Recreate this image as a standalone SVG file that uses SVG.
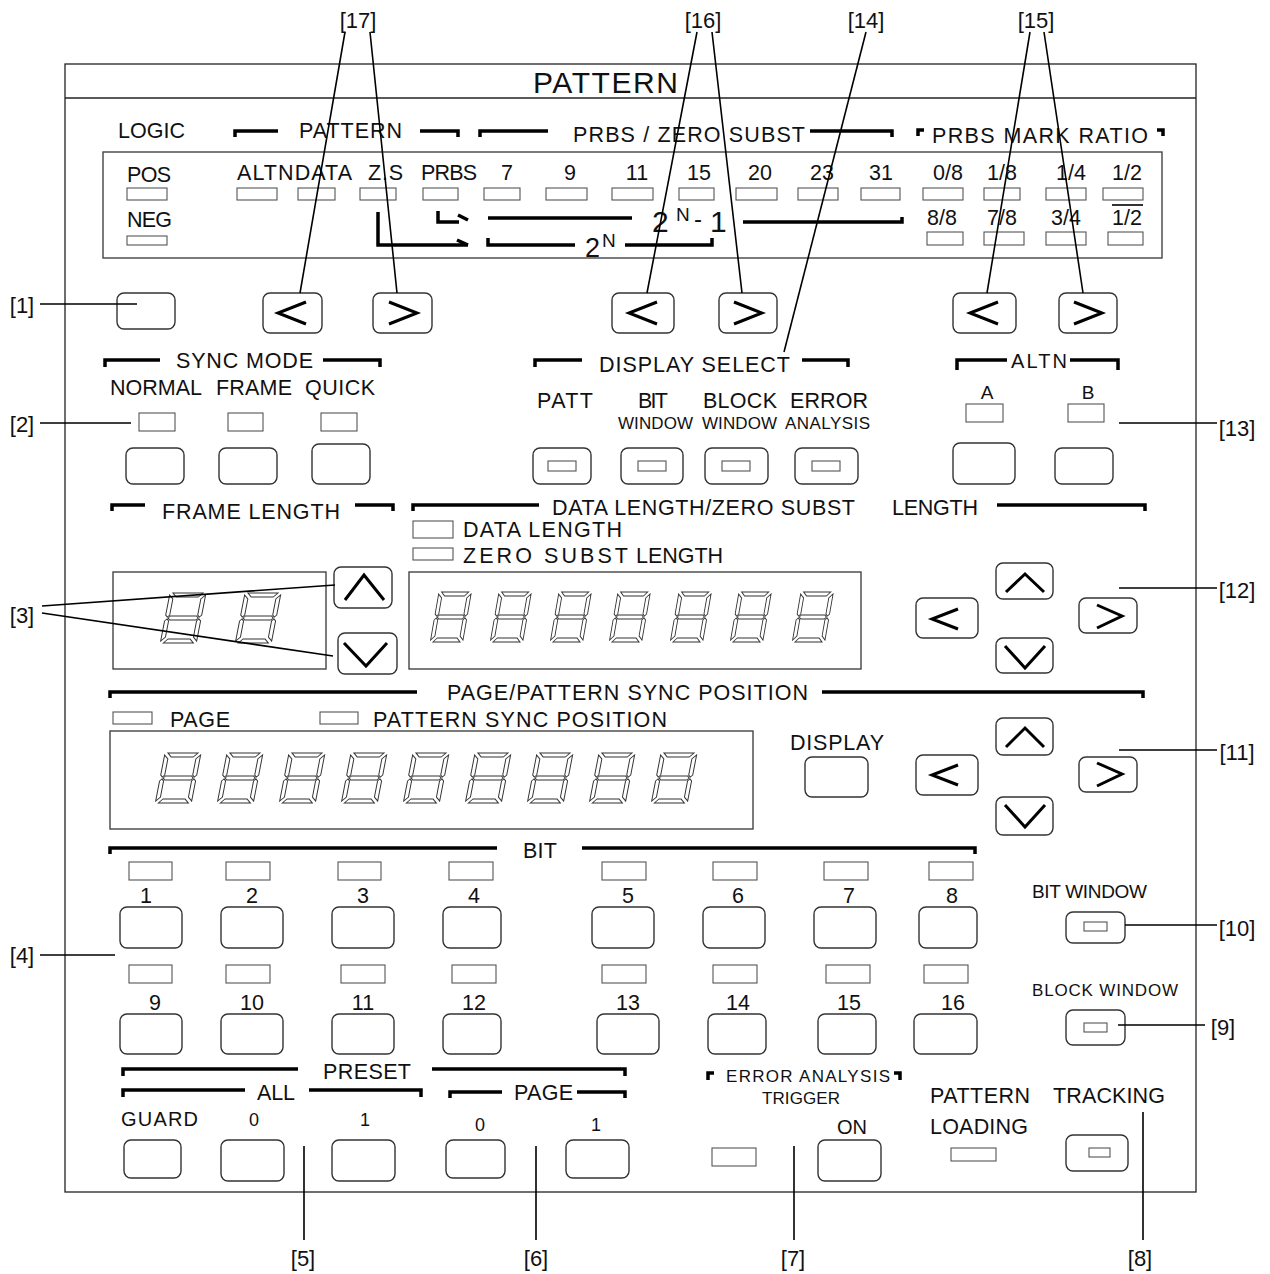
<svg xmlns="http://www.w3.org/2000/svg" width="1270" height="1274" viewBox="0 0 1270 1274">
<style>
.t{font-family:"Liberation Sans",Arial,Helvetica,sans-serif;font-size:21.5px;fill:#111}
.s{font-size:17px}
.m{text-anchor:middle}
.fr{fill:none;stroke:#222;stroke-width:1.3}
.bx{fill:none;stroke:#444;stroke-width:1.4}
.btn{fill:#fff;stroke:#333;stroke-width:1.4}
.led{fill:#fff;stroke:#555;stroke-width:1.1}
.hb{fill:none;stroke:#000;stroke-width:3.5}
.ch{fill:none;stroke:#000;stroke-width:3}
.ld{fill:none;stroke:#000;stroke-width:1.6}
.seg{fill:none;stroke:#333;stroke-width:1}
.cl{font-size:22px}
</style>
<defs>
<g id="dg" transform="translate(10,0) skewX(-11)">
<path class="seg" d="M3,0 H33 L29,4 H7 Z M0,2 L4,6 V22 L2,24 L0,22 Z M36,2 V22 L34,24 L32,22 V6 Z M3,25 L5,23 H31 L33,25 L31,27 H5 Z M0,28 L2,26 L4,28 V44 L0,48 Z M36,28 V48 L32,44 V28 L34,26 Z M3,50 L7,46 H29 L33,50 Z"/>
</g>
</defs>
<rect width="1270" height="1274" fill="#fff"/>

<g id="panel">
<rect class="fr" x="65" y="64" width="1131" height="1128"/>
<line class="fr" x1="65" y1="98" x2="1196" y2="98"/>
<text class="t" x="533" y="93" style="font-size:30px" textLength="145">PATTERN</text>
</g>

<g id="logic-pattern-display">
<text class="t" x="118" y="138" textLength="67">LOGIC</text>
<path class="hb" d="M235,137 V131 H278 M420,131 H458 V137"/>
<text class="t" x="299" y="138" textLength="103">PATTERN</text>
<path class="hb" d="M480,137 V131 H548 M810,131 H892 V137"/>
<text class="t" x="573" y="142" textLength="232">PRBS / ZERO  SUBST</text>
<path class="hb" d="M918,136 V130 H924 M1157,130 H1163 V136"/>
<text class="t" x="932" y="143" textLength="216">PRBS  MARK  RATIO</text>
<rect class="bx" x="103" y="152" width="1059" height="106"/>
<text class="t" x="127" y="182" textLength="44">POS</text>
<rect class="led" x="127" y="188" width="40" height="12"/>
<text class="t" x="127" y="227" textLength="45">NEG</text>
<rect class="led" x="127" y="236" width="40" height="9"/>
<text class="t" x="237" y="180" textLength="115">ALTNDATA</text>
<text class="t" x="368" y="180" textLength="35">Z.S</text>
<text class="t" x="421" y="180" textLength="56">PRBS</text>
<text class="t m" x="507" y="180">7</text>
<text class="t m" x="570" y="180">9</text>
<text class="t m" x="637" y="180">11</text>
<text class="t m" x="699" y="180">15</text>
<text class="t m" x="760" y="180">20</text>
<text class="t m" x="822" y="180">23</text>
<text class="t m" x="881" y="180">31</text>
<text class="t m" x="948" y="180">0/8</text>
<text class="t m" x="1002" y="180">1/8</text>
<text class="t m" x="1071" y="180">1/4</text>
<text class="t m" x="1127" y="180">1/2</text>
<rect class="led" x="237" y="188" width="40" height="12"/>
<rect class="led" x="298" y="188" width="37" height="12"/>
<rect class="led" x="360" y="188" width="36" height="12"/>
<rect class="led" x="423" y="188" width="35" height="12"/>
<rect class="led" x="484" y="188" width="36" height="12"/>
<rect class="led" x="546" y="188" width="41" height="12"/>
<rect class="led" x="612" y="188" width="41" height="12"/>
<rect class="led" x="679" y="188" width="35" height="12"/>
<rect class="led" x="736" y="188" width="41" height="12"/>
<rect class="led" x="798" y="188" width="40" height="12"/>
<rect class="led" x="861" y="188" width="39" height="12"/>
<rect class="led" x="923" y="188" width="40" height="12"/>
<rect class="led" x="984" y="188" width="36" height="12"/>
<rect class="led" x="1046" y="188" width="40" height="12"/>
<rect class="led" x="1103" y="188" width="40" height="12"/>
<text class="t m" x="942" y="225">8/8</text>
<text class="t m" x="1002" y="225">7/8</text>
<text class="t m" x="1066" y="225">3/4</text>
<text class="t m" x="1127" y="225">1/2</text>
<line class="ld" x1="1112" y1="205" x2="1143" y2="205" stroke-width="1.2"/>
<rect class="led" x="927" y="232" width="36" height="13"/>
<rect class="led" x="984" y="232" width="40" height="13"/>
<rect class="led" x="1046" y="232" width="40" height="13"/>
<rect class="led" x="1108" y="232" width="35" height="13"/>
<path class="hb" d="M438,211 V222 H459 M458,215 L468,220"/>
<path class="hb" d="M378,212 V245 H468 M457,240 L468,245"/>
<path class="hb" d="M488,218 H632 M743,222 H902 V217"/>
<text class="t" x="652" y="232" style="font-size:30px">2<tspan x="676" y="221" style="font-size:19px">N</tspan><tspan x="694" y="227" style="font-size:24px">-</tspan><tspan x="710" y="232" style="font-size:30px">1</tspan></text>
<path class="hb" d="M488,238 V245 H575 M625,245 H712 V238"/>
<text class="t" x="585" y="257" style="font-size:27px">2<tspan x="602" y="247" style="font-size:19px">N</tspan></text>
</g>

<g id="pattern-buttons">
<rect class="btn" x="117" y="293" width="58" height="36" rx="7"/>
<rect class="btn" x="263" y="293" width="59" height="40" rx="7"/>
<path class="ch" d="M306,302 L278,313 L306,324"/>
<rect class="btn" x="373" y="293" width="59" height="40" rx="7"/>
<path class="ch" d="M389,302 L417,313 L389,324"/>
<rect class="btn" x="612" y="293" width="62" height="40" rx="7"/>
<path class="ch" d="M657,302 L629,313 L657,324"/>
<rect class="btn" x="719" y="293" width="58" height="40" rx="7"/>
<path class="ch" d="M734,302 L762,313 L734,324"/>
<rect class="btn" x="953" y="293" width="63" height="40" rx="7"/>
<path class="ch" d="M998,302 L970,313 L998,324"/>
<rect class="btn" x="1059" y="293" width="58" height="40" rx="7"/>
<path class="ch" d="M1074,302 L1102,313 L1074,324"/>
</g>

<g id="sync-mode">
<path class="hb" d="M105,367 V360 H160 M323,360 H380 V367"/>
<text class="t" x="176" y="368" textLength="137">SYNC  MODE</text>
<text class="t" x="110" y="395" textLength="92">NORMAL</text>
<text class="t" x="216" y="395" textLength="76">FRAME</text>
<text class="t" x="305" y="395" textLength="70">QUICK</text>
<rect class="led" x="139" y="413" width="36" height="18"/>
<rect class="led" x="228" y="413" width="35" height="18"/>
<rect class="led" x="321" y="413" width="36" height="18"/>
<rect class="btn" x="126" y="448" width="58" height="36" rx="7"/>
<rect class="btn" x="219" y="448" width="58" height="36" rx="7"/>
<rect class="btn" x="312" y="444" width="58" height="40" rx="7"/>
</g>

<g id="display-select">
<path class="hb" d="M535,367 V360 H582 M802,360 H848 V367"/>
<text class="t" x="599" y="372" textLength="191">DISPLAY  SELECT</text>
<text class="t" x="537" y="408" textLength="56">PATT</text>
<text class="t" x="638" y="408" textLength="30">BIT</text>
<text class="t" x="703" y="408" textLength="74">BLOCK</text>
<text class="t" x="790" y="408" textLength="78">ERROR</text>
<text class="t s" x="618" y="429" textLength="75">WINDOW</text>
<text class="t s" x="702" y="429" textLength="75">WINDOW</text>
<text class="t s" x="785" y="429" textLength="85">ANALYSIS</text>
<rect class="btn" x="533" y="448" width="58" height="36" rx="7"/>
<rect class="led" x="548" y="461" width="28" height="10"/>
<rect class="btn" x="621" y="448" width="62" height="36" rx="7"/>
<rect class="led" x="638" y="461" width="28" height="10"/>
<rect class="btn" x="705" y="448" width="63" height="36" rx="7"/>
<rect class="led" x="722" y="461" width="28" height="10"/>
<rect class="btn" x="795" y="448" width="63" height="36" rx="7"/>
<rect class="led" x="812" y="461" width="28" height="10"/>
</g>

<g id="altn">
<path class="hb" d="M957,370 V360 H1007 M1070,360 H1118 V370"/>
<text class="t" x="1011" y="368" style="font-size:20px" textLength="56">ALTN</text>
<text class="t m" x="987" y="399" style="font-size:19px">A</text>
<text class="t m" x="1088" y="399" style="font-size:19px">B</text>
<rect class="led" x="966" y="404" width="37" height="18"/>
<rect class="led" x="1068" y="404" width="36" height="18"/>
<rect class="btn" x="953" y="443" width="62" height="41" rx="7"/>
<rect class="btn" x="1055" y="448" width="58" height="36" rx="7"/>
</g>

<g id="frame-length">
<path class="hb" d="M112,511 V505 H145 M355,505 H393 V511"/>
<text class="t" x="162" y="519" textLength="178">FRAME  LENGTH</text>
<rect class="bx" x="113" y="572" width="213" height="97"/>
<use href="#dg" x="160" y="593"/>
<use href="#dg" x="235" y="593"/>
<rect class="btn" x="334" y="567" width="58" height="41" rx="7"/>
<path class="ch" d="M345,600 L364,575 L384,600"/>
<rect class="btn" x="338" y="633" width="59" height="41" rx="7"/>
<path class="ch" d="M344,643 L366,666 L387,643"/>
</g>

<g id="data-length">
<path class="hb" d="M413,511 V505 H539 M997,505 H1145 V511"/>
<text class="t" x="552" y="515"><tspan textLength="303">DATA  LENGTH/ZERO  SUBST</tspan><tspan x="892" textLength="86">LENGTH</tspan></text>
<rect class="led" x="413" y="521" width="40" height="17"/>
<text class="t" x="463" y="537" textLength="159">DATA  LENGTH</text>
<rect class="led" x="413" y="548" width="40" height="12"/>
<text class="t" x="463" y="563"><tspan textLength="165">ZERO  SUBST</tspan><tspan x="636" textLength="87">LENGTH</tspan></text>
<rect class="bx" x="409" y="572" width="452" height="97"/>
<use href="#dg" transform="translate(430,592) scale(0.9,1)"/>
<use href="#dg" transform="translate(490,592) scale(0.9,1)"/>
<use href="#dg" transform="translate(550,592) scale(0.9,1)"/>
<use href="#dg" transform="translate(609,592) scale(0.9,1)"/>
<use href="#dg" transform="translate(670,592) scale(0.9,1)"/>
<use href="#dg" transform="translate(730,592) scale(0.9,1)"/>
<use href="#dg" transform="translate(792,592) scale(0.9,1)"/>
<rect class="btn" x="916" y="598" width="62" height="40" rx="7"/>
<path class="ch" d="M958,609 L932,619 L958,629"/>
<rect class="btn" x="996" y="563" width="57" height="36" rx="7"/>
<path class="ch" d="M1006,592 L1025,574 L1044,592"/>
<rect class="btn" x="1079" y="598" width="58" height="35" rx="7"/>
<path class="ch" d="M1097,605 L1122,616 L1097,628"/>
<rect class="btn" x="996" y="638" width="57" height="35" rx="7"/>
<path class="ch" d="M1005,646 L1025,668 L1045,646"/>
</g>

<g id="page-sync">
<path class="hb" d="M110,698 V692 H417 M822,692 H1143 V698"/>
<text class="t" x="447" y="700" textLength="361">PAGE/PATTERN  SYNC  POSITION</text>
<rect class="led" x="113" y="712" width="39" height="12"/>
<text class="t" x="170" y="727" textLength="60">PAGE</text>
<rect class="led" x="320" y="712" width="38" height="12"/>
<text class="t" x="373" y="727" textLength="294">PATTERN  SYNC  POSITION</text>
<rect class="bx" x="110" y="731" width="643" height="98"/>
<use href="#dg" x="155" y="753"/>
<use href="#dg" x="217" y="753"/>
<use href="#dg" x="279" y="753"/>
<use href="#dg" x="341" y="753"/>
<use href="#dg" x="403" y="753"/>
<use href="#dg" x="465" y="753"/>
<use href="#dg" x="527" y="753"/>
<use href="#dg" x="589" y="753"/>
<use href="#dg" x="651" y="753"/>
<text class="t" x="790" y="750" textLength="94">DISPLAY</text>
<rect class="btn" x="805" y="757" width="63" height="40" rx="7"/>
<rect class="btn" x="916" y="755" width="62" height="40" rx="7"/>
<path class="ch" d="M958,765 L932,775 L958,785"/>
<rect class="btn" x="996" y="718" width="57" height="37" rx="7"/>
<path class="ch" d="M1006,747 L1025,728 L1044,747"/>
<rect class="btn" x="1079" y="757" width="58" height="35" rx="7"/>
<path class="ch" d="M1097,763 L1122,774 L1097,786"/>
<rect class="btn" x="996" y="797" width="57" height="38" rx="7"/>
<path class="ch" d="M1005,805 L1025,827 L1045,805"/>
</g>

<g id="bit">
<path class="hb" d="M110,854 V848 H497 M582,848 H975 V854"/>
<text class="t" x="523" y="858" textLength="34">BIT</text>
<rect class="led" x="129" y="862" width="43" height="18"/>
<rect class="led" x="226" y="862" width="44" height="18"/>
<rect class="led" x="338" y="862" width="43" height="18"/>
<rect class="led" x="449" y="862" width="44" height="18"/>
<rect class="led" x="602" y="862" width="44" height="18"/>
<rect class="led" x="713" y="862" width="44" height="18"/>
<rect class="led" x="824" y="862" width="44" height="18"/>
<rect class="led" x="929" y="862" width="44" height="18"/>
<text class="t m" x="146" y="903">1</text>
<text class="t m" x="252" y="903">2</text>
<text class="t m" x="363" y="903">3</text>
<text class="t m" x="474" y="903">4</text>
<text class="t m" x="628" y="903">5</text>
<text class="t m" x="738" y="903">6</text>
<text class="t m" x="849" y="903">7</text>
<text class="t m" x="952" y="903">8</text>
<rect class="btn" x="120" y="907" width="62" height="41" rx="7"/>
<rect class="btn" x="221" y="907" width="62" height="41" rx="7"/>
<rect class="btn" x="332" y="907" width="62" height="41" rx="7"/>
<rect class="btn" x="443" y="907" width="58" height="41" rx="7"/>
<rect class="btn" x="592" y="907" width="62" height="41" rx="7"/>
<rect class="btn" x="703" y="907" width="62" height="41" rx="7"/>
<rect class="btn" x="814" y="907" width="62" height="41" rx="7"/>
<rect class="btn" x="919" y="907" width="58" height="41" rx="7"/>
<rect class="led" x="129" y="965" width="43" height="18"/>
<rect class="led" x="226" y="965" width="44" height="18"/>
<rect class="led" x="341" y="965" width="44" height="18"/>
<rect class="led" x="452" y="965" width="44" height="18"/>
<rect class="led" x="602" y="965" width="44" height="18"/>
<rect class="led" x="713" y="965" width="44" height="18"/>
<rect class="led" x="826" y="965" width="44" height="18"/>
<rect class="led" x="924" y="965" width="44" height="18"/>
<text class="t m" x="155" y="1010">9</text>
<text class="t m" x="252" y="1010">10</text>
<text class="t m" x="363" y="1010">11</text>
<text class="t m" x="474" y="1010">12</text>
<text class="t m" x="628" y="1010">13</text>
<text class="t m" x="738" y="1010">14</text>
<text class="t m" x="849" y="1010">15</text>
<text class="t m" x="953" y="1010">16</text>
<rect class="btn" x="120" y="1014" width="62" height="40" rx="7"/>
<rect class="btn" x="221" y="1014" width="62" height="40" rx="7"/>
<rect class="btn" x="332" y="1014" width="62" height="40" rx="7"/>
<rect class="btn" x="443" y="1014" width="58" height="40" rx="7"/>
<rect class="btn" x="597" y="1014" width="62" height="40" rx="7"/>
<rect class="btn" x="708" y="1014" width="58" height="40" rx="7"/>
<rect class="btn" x="818" y="1014" width="58" height="40" rx="7"/>
<rect class="btn" x="914" y="1014" width="63" height="40" rx="7"/>
</g>

<g id="windows">
<text class="t" x="1032" y="898" style="font-size:19px" textLength="115">BIT  WINDOW</text>
<rect class="btn" x="1066" y="912" width="59" height="31" rx="7"/>
<rect class="led" x="1084" y="922" width="23" height="9"/>
<text class="t s" x="1032" y="996" textLength="146">BLOCK  WINDOW</text>
<rect class="btn" x="1066" y="1010" width="59" height="35" rx="7"/>
<rect class="led" x="1084" y="1023" width="23" height="9"/>
</g>

<g id="preset">
<path class="hb" d="M123,1076 V1069 H298 M432,1069 H625 V1076"/>
<text class="t" x="323" y="1079" textLength="88">PRESET</text>
<path class="hb" d="M123,1097 V1090 H245 M309,1090 H421 V1097"/>
<text class="t" x="257" y="1100" textLength="38">ALL</text>
<path class="hb" d="M450,1098 V1092 H502 M577,1092 H625 V1098"/>
<text class="t" x="514" y="1100" textLength="59">PAGE</text>
<text class="t" x="121" y="1126" style="font-size:20px" textLength="77">GUARD</text>
<text class="t m" x="254" y="1126" style="font-size:18px">0</text>
<text class="t m" x="365" y="1126" style="font-size:18px">1</text>
<text class="t m" x="480" y="1131" style="font-size:18px">0</text>
<text class="t m" x="596" y="1131" style="font-size:18px">1</text>
<rect class="btn" x="124" y="1140" width="57" height="38" rx="7"/>
<rect class="btn" x="221" y="1140" width="63" height="41" rx="7"/>
<rect class="btn" x="332" y="1140" width="63" height="41" rx="7"/>
<rect class="btn" x="446" y="1140" width="59" height="38" rx="7"/>
<rect class="btn" x="566" y="1140" width="63" height="38" rx="7"/>
</g>

<g id="error-trigger">
<path class="hb" d="M708,1080 V1073 H714 M894,1073 H900 V1080" stroke-width="3"/>
<text class="t s" x="726" y="1082" textLength="164">ERROR  ANALYSIS</text>
<text class="t s" x="762" y="1104" textLength="78">TRIGGER</text>
<rect class="led" x="712" y="1148" width="44" height="18"/>
<text class="t m" x="852" y="1134" style="font-size:20px">ON</text>
<rect class="btn" x="818" y="1140" width="63" height="41" rx="7"/>
</g>

<g id="loading-tracking">
<text class="t" x="930" y="1103" textLength="100">PATTERN</text>
<text class="t" x="930" y="1134" textLength="98">LOADING</text>
<rect class="led" x="951" y="1148" width="45" height="13"/>
<text class="t" x="1053" y="1103" textLength="112">TRACKING</text>
<rect class="btn" x="1066" y="1135" width="62" height="36" rx="7"/>
<rect class="led" x="1089" y="1148" width="21" height="9"/>
</g>

<g id="callouts">
<path class="ld" d="M345,32 L300,293 M370,32 L397,293"/>
<path class="ld" d="M697,32 L647,293 M712,32 L742,293"/>
<path class="ld" d="M866,32 L784,352"/>
<path class="ld" d="M1030,32 L987,293 M1044,32 L1083,293"/>
<path class="ld" d="M40,304 H137 M40,423 H131 M42,606 L335,585 M42,613 L333,656 M40,955 H115"/>
<path class="ld" d="M1119,423 H1217 M1119,588 H1217 M1119,750 H1217 M1125,925 H1217 M1118,1025 H1205"/>
<path class="ld" d="M304,1146 V1240 M536,1146 V1240 M794,1146 V1240 M1143,1112 V1240"/>
<text class="t m cl" x="358" y="28">[17]</text>
<text class="t m cl" x="703" y="28">[16]</text>
<text class="t m cl" x="866" y="28">[14]</text>
<text class="t m cl" x="1036" y="28">[15]</text>
<text class="t m cl" x="22" y="313">[1]</text>
<text class="t m cl" x="22" y="432">[2]</text>
<text class="t m cl" x="22" y="623">[3]</text>
<text class="t m cl" x="22" y="963">[4]</text>
<text class="t m cl" x="1237" y="436">[13]</text>
<text class="t m cl" x="1237" y="598">[12]</text>
<text class="t m cl" x="1237" y="760">[11]</text>
<text class="t m cl" x="1237" y="936">[10]</text>
<text class="t m cl" x="1223" y="1035">[9]</text>
<text class="t m cl" x="303" y="1266">[5]</text>
<text class="t m cl" x="536" y="1266">[6]</text>
<text class="t m cl" x="793" y="1266">[7]</text>
<text class="t m cl" x="1140" y="1266">[8]</text>
</g>
</svg>
